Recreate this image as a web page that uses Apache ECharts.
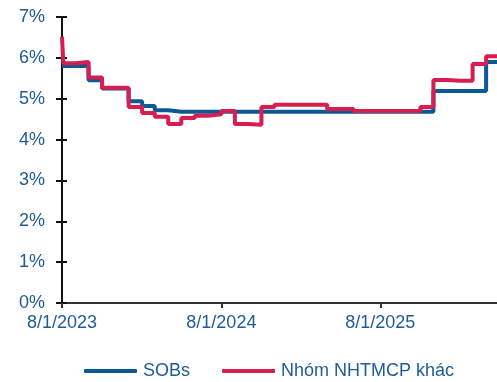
<!DOCTYPE html>
<html>
<head>
<meta charset="utf-8">
<script src="https://cdn.jsdelivr.net/npm/echarts@6/dist/echarts.min.js"></script>
<style>
html,body{margin:0;padding:0;background:#fff;}
#chart{width:497px;height:382px;}
</style>
</head>
<body>
<div id="chart"></div>
<script>
// Dates at which the rates change (value holds until next date)
var dates = [
  '2023-08-01','2023-08-04','2023-09-01','2023-10-01','2023-11-01','2023-12-01',
  '2024-01-01','2024-02-01','2024-03-01','2024-04-01','2024-05-01','2024-06-01',
  '2024-07-01','2024-08-01','2024-09-01','2024-10-01','2024-11-01','2024-12-01',
  '2025-01-01','2025-02-01','2025-03-01','2025-04-01','2025-05-01','2025-06-01',
  '2025-07-01','2025-08-01','2025-09-01','2025-10-01','2025-11-01','2025-12-01',
  '2026-01-01','2026-02-01','2026-03-01','2026-04-01','2026-04-26'
];
var sobs = [
  5.80,5.80,5.80,5.45,5.25,5.25,
  4.94,4.82,4.72,4.68,4.68,4.68,
  4.68,4.68,4.68,4.68,4.68,4.68,
  4.68,4.68,4.68,4.68,4.68,4.68,
  4.68,4.68,4.68,4.68,4.68,5.19,
  5.19,5.19,5.19,5.90,5.90
];
var other = [
  6.52,5.87,5.90,5.52,5.27,5.27,
  4.80,4.65,4.56,4.38,4.53,4.58,
  4.62,4.70,4.38,4.36,4.80,4.85,
  4.85,4.85,4.85,4.75,4.75,4.70,
  4.70,4.70,4.70,4.70,4.80,5.46,
  5.44,5.44,5.85,6.04,6.04
];
var seriesNames = ['SOBs', 'Nhóm NHTMCP khác'];
var xTickDates = ['2023-08-01','2024-08-01','2025-08-01'];
var xTickLabels = ['8/1/2023','8/1/2024','8/1/2025'];

var ts = function(d){ return Date.parse(d); };
var tickTs = xTickDates.map(ts);
function pairs(vals){ return dates.map(function(d,i){ return [ts(d), vals[i]]; }); }

var textBlue = '#1f5c96';
var font = 'Liberation Sans, Arial, sans-serif';
var chart = echarts.init(document.getElementById('chart'), null, {renderer:'canvas'});
chart.setOption({
  animation: false,
  backgroundColor: '#fff',
  grid: {left: 62, right: 0, top: 17, bottom: 79, containLabel: false},
  xAxis: {
    type: 'value',
    min: ts(dates[0]),
    max: ts(dates[dates.length-1]),
    axisLine: {show: true, onZero: false, lineStyle: {color: '#333', width: 2}},
    axisTick: {show: true, length: 5, lineStyle: {color: '#333', width: 2}, customValues: tickTs},
    axisLabel: {
      customValues: tickTs,
      color: textBlue, fontSize: 18, fontFamily: font, margin: 11,
      formatter: function(v){ var i = tickTs.indexOf(v); return i >= 0 ? xTickLabels[i] : ''; }
    },
    splitLine: {show: false}
  },
  yAxis: [{
    type: 'value', min: 0, max: 7, interval: 1,
    axisLine: {show: true, lineStyle: {color: '#111', width: 2}},
    axisTick: {show: true, length: 6, lineStyle: {color: '#111', width: 2}},
    axisLabel: {color: textBlue, fontSize: 18, fontFamily: font, margin: 17,
      formatter: function(v){ return v + '%'; }},
    splitLine: {show: false}
  },{
    type: 'value', min: 0, max: 7, interval: 1, position: 'left',
    axisLine: {show: false},
    axisTick: {show: true, inside: true, length: 5, lineStyle: {color: '#111', width: 2}},
    axisLabel: {show: false},
    splitLine: {show: false}
  }],
  legend: {
    top: 362, left: 84, padding: 0,
    itemWidth: 53, itemHeight: 4, itemGap: 32,
    icon: 'roundRect',
    textStyle: {color: textBlue, fontSize: 18, fontFamily: font, padding: [0,0,0,1]},
    data: seriesNames
  },
  series: [{
    name: seriesNames[0], type: 'line', step: 'end', showSymbol: false, symbol: 'none',
    data: pairs(sobs), color: '#0b5a96',
    lineStyle: {width: 4, color: '#0b5a96'}, z: 2
  },{
    name: seriesNames[1], type: 'line', step: 'end', showSymbol: false, symbol: 'none',
    data: pairs(other), color: '#d81e50',
    lineStyle: {width: 4, color: '#d81e50'}, z: 3
  }]
});
</script>
</body>
</html>
